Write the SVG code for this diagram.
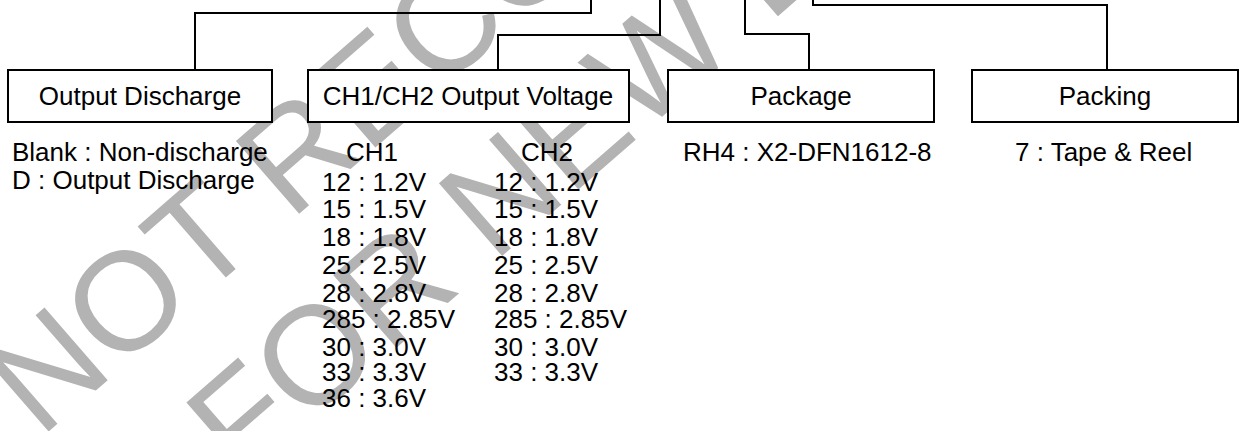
<svg xmlns="http://www.w3.org/2000/svg" width="1241" height="431" viewBox="0 0 1241 431">
<style>
.box{fill:#fff;stroke:#000;stroke-width:2}
.ln{fill:none;stroke:#000;stroke-width:2}
.t{font-family:"Liberation Sans",Arial,sans-serif;font-size:26px;fill:#000}
.c{text-anchor:middle}
.wm{font-family:"Liberation Sans",Arial,sans-serif;font-size:140px;fill:#b3b3b3}
</style>
<rect width="1241" height="431" fill="#fff"/>
<g id="watermark" transform="translate(40,439) rotate(-41)">
<text class="wm" x="0" y="0">NOT RECOMMENDED</text>
<text class="wm" x="123" y="165">FOR NEW DESIGN</text>
</g>
<g id="connectors">
<path class="ln" d="M591,0 V13 H195 V70"/>
<path class="ln" d="M660,0 V35 H498 V70"/>
<path class="ln" d="M745,0 V34 H809 V70"/>
<path class="ln" d="M813,0 V5 H1107 V70"/>
</g>
<g id="output-discharge">
<rect class="box" x="8" y="70" width="264" height="52"/>
<text class="t c" x="140" y="105">Output Discharge</text>
<text class="t" x="12" y="161">Blank : Non-discharge</text>
<text class="t" x="12" y="189">D : Output Discharge</text>
</g>
<g id="output-voltage">
<rect class="box" x="308" y="70" width="321" height="52"/>
<text class="t c" x="468" y="105">CH1/CH2 Output Voltage</text>
<text class="t c" x="372" y="161">CH1</text>
<text class="t c" x="547" y="161">CH2</text>
<text class="t" x="322" y="191">12 : 1.2V</text>
<text class="t" x="322" y="218">15 : 1.5V</text>
<text class="t" x="322" y="246">18 : 1.8V</text>
<text class="t" x="322" y="274">25 : 2.5V</text>
<text class="t" x="322" y="302">28 : 2.8V</text>
<text class="t" x="322" y="328">285 : 2.85V</text>
<text class="t" x="322" y="356">30 : 3.0V</text>
<text class="t" x="322" y="381">33 : 3.3V</text>
<text class="t" x="322" y="407">36 : 3.6V</text>
<text class="t" x="494" y="191">12 : 1.2V</text>
<text class="t" x="494" y="218">15 : 1.5V</text>
<text class="t" x="494" y="246">18 : 1.8V</text>
<text class="t" x="494" y="274">25 : 2.5V</text>
<text class="t" x="494" y="302">28 : 2.8V</text>
<text class="t" x="494" y="328">285 : 2.85V</text>
<text class="t" x="494" y="356">30 : 3.0V</text>
<text class="t" x="494" y="381">33 : 3.3V</text>
</g>
<g id="package">
<rect class="box" x="668" y="70" width="266" height="52"/>
<text class="t c" x="801" y="105">Package</text>
<text class="t" x="683" y="161">RH4 : X2-DFN1612-8</text>
</g>
<g id="packing">
<rect class="box" x="972" y="70" width="266" height="52"/>
<text class="t c" x="1105" y="105">Packing</text>
<text class="t" x="1015" y="161">7 : Tape &amp; Reel</text>
</g>
</svg>
